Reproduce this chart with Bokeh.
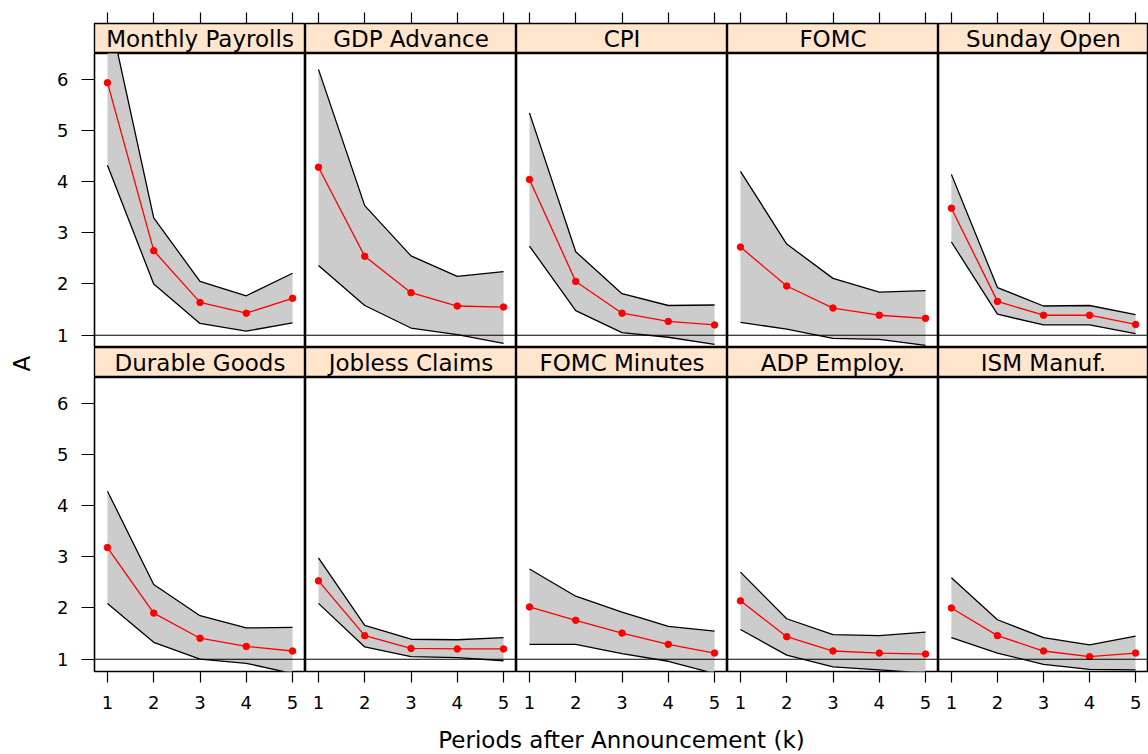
from bokeh.plotting import figure
from bokeh.layouts import gridplot, row, column
from bokeh.models import LinearAxis, FixedTicker, Span, ColumnDataSource
from bokeh.embed import file_html
from bokeh.resources import INLINE
from bokeh.core.properties import value

# ---------------- data ----------------
panels = ["Monthly Payrolls", "GDP Advance", "CPI", "FOMC", "Sunday Open",
          "Durable Goods", "Jobless Claims", "FOMC Minutes", "ADP Employ.", "ISM Manuf."]
k = [1, 2, 3, 4, 5]
x_ticks = [1, 2, 3, 4, 5]
y_ticks = [1, 2, 3, 4, 5, 6]

estimate = [
    [5.93, 2.65, 1.64, 1.43, 1.72],
    [4.28, 2.54, 1.83, 1.57, 1.55],
    [4.04, 2.05, 1.43, 1.27, 1.20],
    [2.72, 1.96, 1.53, 1.39, 1.33],
    [3.48, 1.66, 1.39, 1.39, 1.21],
    [3.18, 1.90, 1.41, 1.25, 1.16],
    [2.53, 1.46, 1.21, 1.20, 1.20],
    [2.02, 1.76, 1.51, 1.29, 1.12],
    [2.14, 1.44, 1.16, 1.12, 1.10],
    [2.00, 1.46, 1.16, 1.05, 1.12],
]
upper = [
    [7.43, 3.29, 2.05, 1.77, 2.21],
    [6.19, 3.53, 2.55, 2.15, 2.24],
    [5.34, 2.63, 1.81, 1.58, 1.59],
    [4.20, 2.78, 2.11, 1.84, 1.87],
    [4.14, 1.93, 1.57, 1.58, 1.40],
    [4.28, 2.46, 1.85, 1.61, 1.62],
    [2.98, 1.66, 1.39, 1.38, 1.42],
    [2.76, 2.23, 1.92, 1.64, 1.55],
    [2.70, 1.79, 1.48, 1.46, 1.53],
    [2.59, 1.77, 1.42, 1.28, 1.45],
]
lower = [
    [4.32, 2.00, 1.23, 1.08, 1.24],
    [2.36, 1.58, 1.14, 1.01, 0.84],
    [2.74, 1.48, 1.05, 0.96, 0.82],
    [1.25, 1.12, 0.94, 0.92, 0.80],
    [2.82, 1.41, 1.20, 1.20, 1.03],
    [2.09, 1.33, 1.00, 0.92, 0.72],
    [2.09, 1.24, 1.05, 1.03, 0.97],
    [1.29, 1.29, 1.11, 0.96, 0.72],
    [1.58, 1.08, 0.85, 0.79, 0.73],
    [1.42, 1.12, 0.90, 0.80, 0.79],
]
reference_level = 1
x_label = "Periods after Announcement (k)"
y_label = "A"

# ---------------- style / layout ----------------
FONT = "DejaVu Sans"
XR = (0.72, 5.28)
YR = (0.76, 6.5)
FW = [211, 211, 211, 211, 210]
A_W = 35            # width of the column holding the y label
LEFT = 94 - A_W     # border left of first panel column
STRIP_H = 30
PANEL_H = 294
TOP = 23
BOTTOM = 44
STRIP_BG = "#FFE5CC"
BAND = "#CCCCCC"


def base_fig(col, fh, yr, top=0, bottom=0, ow=1.6):
    p = figure(frame_width=FW[col], frame_height=fh, x_range=XR, y_range=yr,
               x_axis_location=None, y_axis_location=None, toolbar_location=None,
               output_backend="svg", title=None,
               min_border_left=LEFT if col == 0 else 0, min_border_right=0,
               min_border_top=top, min_border_bottom=bottom,
               outline_line_color="black", outline_line_width=ow,
               border_fill_color="white")
    p.grid.visible = False
    return p


def make_strip(i, col, r):
    p = base_fig(col, STRIP_H, (0, 1), top=TOP if r == 0 else 0, ow=1.4)
    p.background_fill_color = STRIP_BG
    p.text(x=[3], y=[0.5], text=[panels[i]], text_align="center", text_baseline="middle",
           text_font=value(FONT), text_font_size="23px", text_color="black")
    if r == 0:
        ax = LinearAxis(ticker=FixedTicker(ticks=x_ticks), major_tick_out=11, major_tick_in=0,
                        major_label_text_font_size="1px", major_label_text_color=None,
                        major_label_standoff=0, major_tick_line_width=1.2,
                        axis_line_color=None, minor_tick_line_color=None,
                        major_tick_line_color="black")
        p.add_layout(ax, "above")
    return p


def make_panel(i, col, r):
    p = base_fig(col, PANEL_H, YR, bottom=BOTTOM if r == 1 else 0)
    src = ColumnDataSource(dict(k=k, est=estimate[i], lo=lower[i], hi=upper[i]))
    p.varea(x="k", y1="lo", y2="hi", source=src, fill_color=BAND)
    p.line("k", "hi", source=src, line_color="black", line_width=1.3)
    p.line("k", "lo", source=src, line_color="black", line_width=1.3)
    p.add_layout(Span(location=reference_level, dimension="width", line_color="black", line_width=1.1))
    p.line("k", "est", source=src, line_color="red", line_width=1.3)
    p.scatter("k", "est", source=src, size=6.5, fill_color="red", line_color="red")
    if col == 0:
        ax = LinearAxis(ticker=FixedTicker(ticks=y_ticks), major_tick_out=13, major_tick_in=0,
                        major_label_standoff=13, major_label_text_font=FONT,
                        major_label_text_font_size="18px", major_label_text_color="black",
                        axis_line_color=None, minor_tick_line_color=None,
                        major_tick_line_color="black", major_tick_line_width=1.2)
        p.add_layout(ax, "left")
    if r == 1:
        ax = LinearAxis(ticker=FixedTicker(ticks=x_ticks), major_tick_out=11, major_tick_in=0,
                        major_label_standoff=13, major_label_text_font=FONT,
                        major_label_text_font_size="18px", major_label_text_color="black",
                        axis_line_color=None, minor_tick_line_color=None,
                        major_tick_line_color="black", major_tick_line_width=1.2)
        p.add_layout(ax, "below")
    return p


rows = []
for r in range(2):
    rows.append([make_strip(r * 5 + c, c, r) for c in range(5)])
    rows.append([make_panel(r * 5 + c, c, r) for c in range(5)])

grid = gridplot(rows, toolbar_location=None)

grid_h = TOP + 2 * (STRIP_H + PANEL_H) + BOTTOM   # 715
TOTAL_H = 754

# x-axis title, centred under the panel block
xl = figure(frame_width=sum(FW), frame_height=1, x_range=(0, 1), y_range=(0, 1),
            x_axis_location=None, y_axis_location=None, toolbar_location=None,
            output_backend="svg", title=None,
            min_border_left=LEFT, min_border_right=0, min_border_top=0,
            min_border_bottom=TOTAL_H - grid_h - 1, outline_line_color=None)
xl.grid.visible = False
xax = LinearAxis(ticker=FixedTicker(ticks=[]), major_tick_out=0, major_tick_in=0,
                 major_label_standoff=0, axis_line_color=None, minor_tick_line_color=None,
                 axis_label=x_label, axis_label_standoff=10, axis_label_text_font=FONT,
                 axis_label_text_font_size="23px", axis_label_text_font_style="normal",
                 axis_label_text_color="black")
xl.add_layout(xax, "below")

# y-axis title, centred between the two panel rows
yl = figure(frame_width=1, frame_height=726, x_range=(0, 1), y_range=(0, 1),
            x_axis_location=None, y_axis_location=None, toolbar_location=None,
            output_backend="svg", title=None,
            min_border_left=A_W - 1, min_border_right=0, min_border_top=0,
            min_border_bottom=TOTAL_H - 726, outline_line_color=None)
yl.grid.visible = False
yax = LinearAxis(ticker=FixedTicker(ticks=[]), major_tick_out=0, major_tick_in=0,
                 major_label_standoff=0, axis_line_color=None, minor_tick_line_color=None,
                 axis_label=y_label, axis_label_standoff=0, axis_label_text_font=FONT,
                 axis_label_text_font_size="23px", axis_label_text_font_style="normal",
                 axis_label_text_color="black")
yl.add_layout(yax, "left")

layout = row(yl, column(grid, xl, spacing=0), spacing=0)

open("out.html", "w").write(file_html(layout, INLINE))
